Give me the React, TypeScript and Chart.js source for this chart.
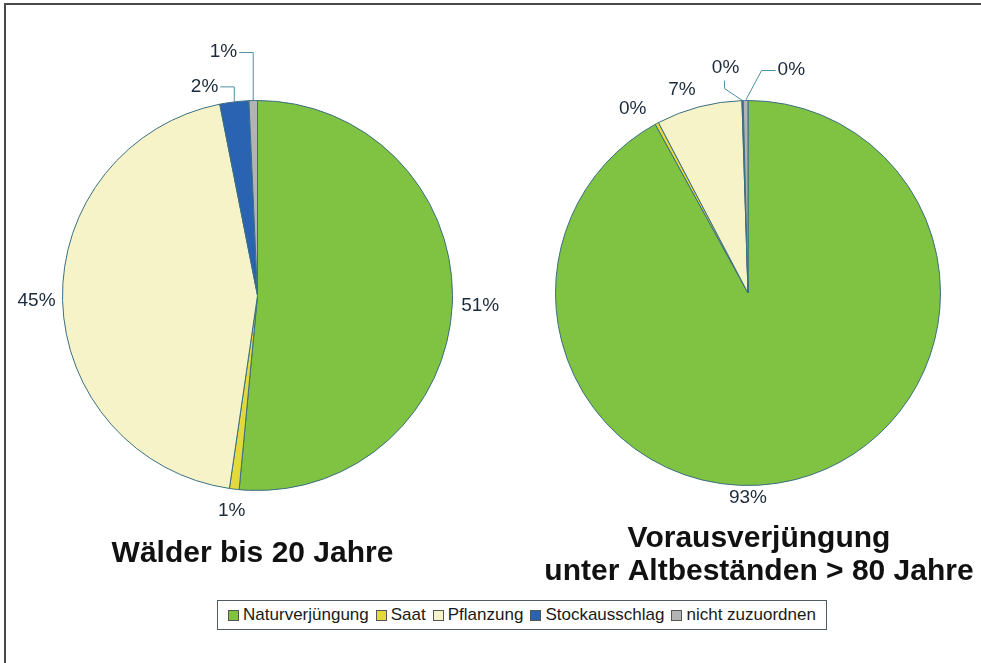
import React, { useEffect, useRef } from 'react';
import { Chart, registerables } from 'chart.js';

Chart.register(...registerables);

const categories = ['Naturverjüngung', 'Saat', 'Pflanzung', 'Stockausschlag', 'nicht zuzuordnen'];
const sliceColors = ['#80c242', '#e4d93a', '#f6f3c9', '#2a63b1', '#b3b3b3'];

const youngValues = [51.5, 0.8, 44.6, 2.4, 0.7];
const youngLabels = ['51%', '1%', '45%', '2%', '1%'];
const youngTitle = ['Wälder bis 20 Jahre'];

const advanceValues = [92.0, 0.3, 7.2, 0.1, 0.4];
const advanceLabels = ['93%', '0%', '7%', '0%', '0%'];
const advanceTitle = ['Vorausverjüngung', 'unter Altbeständen > 80 Jahre'];

const FONT = '"Liberation Sans", Arial, Helvetica, sans-serif';

type Spec = {
  dist?: number;
  angle?: number;
  leader?: number[][];
  text?: number[];
  align?: CanvasTextAlign;
};

const youngSpecs: Spec[] = [
  { dist: 28 },
  { dist: 22 },
  { dist: 26 },
  { leader: [[0, -15], [-14, -15]], text: [-16, -15], align: 'right' },
  { leader: [[0, -48], [-14, -48]], text: [-16, -49], align: 'right' },
];

const advanceSpecs: Spec[] = [
  { dist: 12, angle: 180 },
  { dist: 25, angle: 328 },
  { dist: 21, angle: 342 },
  { leader: [[-18, -12], [-18, -20]], text: [-17, -33], align: 'center' },
  { leader: [[16, -30], [30, -30]], text: [32, -31], align: 'left' },
];

const pieLabels = {
  id: 'pieLabels',
  afterDatasetsDraw(chart: any, _args: any, opts: any) {
    const ctx: CanvasRenderingContext2D = chart.ctx;
    const meta = chart.getDatasetMeta(0);
    const texts: string[] = opts.texts;
    const specs: Spec[] = opts.specs;
    ctx.save();
    ctx.font = `19px ${FONT}`;
    ctx.fillStyle = '#1c2b3a';
    ctx.strokeStyle = '#4f8ea3';
    ctx.lineWidth = 1;
    let cx = 0;
    meta.data.forEach((el: any, i: number) => {
      const p = el.getProps(['x', 'y', 'startAngle', 'endAngle', 'outerRadius'], true);
      cx = p.x;
      const spec = specs[i] || {};
      const midA = (p.startAngle + p.endAngle) / 2;
      if (spec.leader) {
        const ax = p.x + Math.cos(midA) * p.outerRadius;
        const ay = p.y + Math.sin(midA) * p.outerRadius;
        ctx.beginPath();
        ctx.moveTo(ax, ay);
        spec.leader.forEach(([dx, dy]) => ctx.lineTo(ax + dx, ay + dy));
        ctx.stroke();
        ctx.textAlign = spec.align || 'center';
        ctx.textBaseline = 'middle';
        const t = spec.text || [0, 0];
        ctx.fillText(texts[i], ax + t[0], ay + t[1]);
      } else {
        const a = spec.angle !== undefined ? ((spec.angle - 90) * Math.PI) / 180 : midA;
        const d = p.outerRadius + (spec.dist || 20);
        ctx.textAlign = 'center';
        ctx.textBaseline = 'middle';
        ctx.fillText(texts[i], p.x + Math.cos(a) * d, p.y + Math.sin(a) * d);
      }
    });
    ctx.font = `bold 30px ${FONT}`;
    ctx.fillStyle = '#111111';
    ctx.textAlign = 'center';
    ctx.textBaseline = 'alphabetic';
    (opts.title as string[]).forEach((line, k) => {
      ctx.fillText(line, cx + opts.titleDx, opts.titleY + k * opts.titleLH);
    });
    ctx.restore();
  },
};

type PieProps = {
  values: number[];
  texts: string[];
  specs: Spec[];
  title: string[];
  titleDx: number;
  titleY: number;
  titleLH: number;
  padding: { left: number; right: number; top: number; bottom: number };
  width: number;
  height: number;
  left: number;
};

function PieCanvas(props: PieProps) {
  const ref = useRef<HTMLCanvasElement>(null);
  useEffect(() => {
    const chart = new Chart(ref.current as HTMLCanvasElement, {
      type: 'pie',
      data: {
        labels: categories,
        datasets: [
          {
            data: props.values,
            backgroundColor: sliceColors,
            borderColor: '#3a6f82',
            borderWidth: 1,
          },
        ],
      },
      options: {
        responsive: false,
        animation: false,
        devicePixelRatio: 1,
        layout: { padding: props.padding },
        plugins: {
          legend: { display: false },
          tooltip: { enabled: false },
          pieLabels: {
            texts: props.texts,
            specs: props.specs,
            title: props.title,
            titleDx: props.titleDx,
            titleY: props.titleY,
            titleLH: props.titleLH,
          },
        } as any,
      },
      plugins: [pieLabels as any],
    });
    return () => chart.destroy();
  }, []);
  return (
    <canvas
      ref={ref}
      width={props.width}
      height={props.height}
      style={{ position: 'absolute', left: props.left, top: 0, width: props.width, height: props.height, display: 'block' }}
    />
  );
}

function Legend() {
  return (
    <div
      style={{
        position: 'absolute',
        left: 217,
        top: 600,
        width: 610,
        height: 30,
        boxSizing: 'border-box',
        border: '1px solid #4f5a62',
        display: 'flex',
        alignItems: 'center',
        justifyContent: 'center',
        fontFamily: FONT,
        fontSize: 17,
        color: '#1a1a1a',
        background: '#fff',
      }}
    >
      {categories.map((c, i) => (
        <div key={c} style={{ display: 'flex', alignItems: 'center', marginRight: i < categories.length - 1 ? 7 : 0 }}>
          <span
            style={{
              display: 'inline-block',
              width: 9,
              height: 9,
              background: sliceColors[i],
              border: '1px solid #555',
              marginRight: 4,
            }}
          />
          <span>{c}</span>
        </div>
      ))}
    </div>
  );
}

export default function App() {
  return (
    <div
      style={{
        position: 'fixed',
        left: 0,
        top: 0,
        width: '100vw',
        height: '100vh',
        background: '#ffffff',
        overflow: 'hidden',
      }}
    >
      <div style={{ position: 'absolute', left: 4, top: 3, right: 0, height: 2, background: '#4a4a4a' }} />
      <div style={{ position: 'absolute', left: 4, top: 3, bottom: 0, width: 2, background: '#4a4a4a' }} />
      <PieCanvas
        values={youngValues}
        texts={youngLabels}
        specs={youngSpecs}
        title={youngTitle}
        titleDx={-5}
        titleY={562}
        titleLH={33}
        padding={{ left: 62, right: 47, top: 100, bottom: 109 }}
        width={500}
        height={600}
        left={0}
      />
      <PieCanvas
        values={advanceValues}
        texts={advanceLabels}
        specs={advanceSpecs}
        title={advanceTitle}
        titleDx={11}
        titleY={547}
        titleLH={33}
        padding={{ left: 65, right: 40, top: 100, bottom: 114 }}
        width={491}
        height={600}
        left={490}
      />
      <Legend />
    </div>
  );
}
